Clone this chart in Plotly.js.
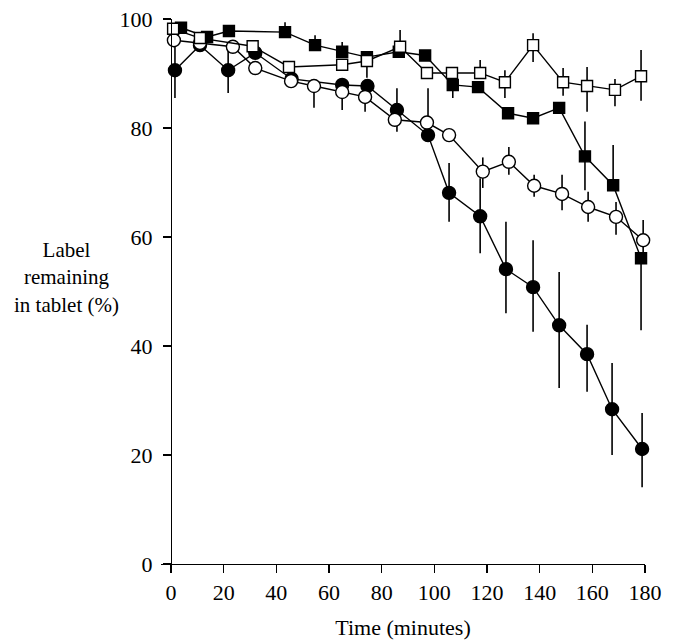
<!DOCTYPE html>
<html>
<head>
<meta charset="utf-8">
<script src="https://cdn.plot.ly/plotly-3.0.1.min.js"></script>
<style>html,body{margin:0;padding:0;background:#fff;}#chart{width:676px;height:642px;}</style>
</head>
<body>
<div id="chart"></div>
<script>
// Filled squares
const fsqT = [3.8, 13.7, 22, 43.3, 54.7, 65, 74.4, 86.5, 96.5, 107, 116.6, 128, 137.5, 147.4, 157.2, 167.9, 178.5];
const fsqY = [98.4, 96.7, 97.8, 97.6, 95.2, 94.0, 93.0, 94.0, 93.3, 87.9, 87.5, 82.7, 81.8, 83.7, 74.8, 69.5, 56.1];
const fsqEp = [0, 0, 0, 1.8, 1.8, 1.8, 0, 0, 0, 0, 0, 0, 0, 0, 6.4, 7.4, 0];
const fsqEm = [0, 0, 0, 0, 0, 0, 0, 0, 0, 2.4, 0, 0, 0, 0, 6.2, 0, 13.2];

// Open squares
const osqT = [0.8, 11, 31, 44.8, 65, 74.4, 87, 97.2, 106.7, 117.4, 126.8, 137.5, 148.9, 158, 168.6, 178.5];
const osqY = [98.2, 96.5, 95.0, 91.2, 91.6, 92.3, 94.9, 90.1, 90.1, 90.1, 88.4, 95.2, 88.4, 87.7, 87.0, 89.5];
const osqEp = [0, 0, 0, 0, 0, 0, 3.1, 0, 0, 2.4, 2.2, 2.2, 2.6, 3.5, 2.0, 4.8];
const osqEm = [0, 0, 0, 0, 0, 3.1, 0, 0, 0, 0, 2.9, 3.1, 2.5, 4.7, 3.0, 4.5];

// Filled circles
const fciT = [1.5, 11, 21.7, 32, 45.8, 65, 74.6, 85.8, 97.6, 105.6, 117.4, 127.2, 137.5, 147.4, 158, 167.5, 178.9];
const fciY = [90.6, 95.2, 90.6, 93.8, 89.0, 87.9, 87.7, 83.3, 78.7, 68.1, 63.8, 54.1, 50.8, 43.8, 38.5, 28.4, 21.1];
const fciEp = [5.1, 0, 4.2, 0, 0, 0, 0, 4.0, 8.6, 5.5, 7.0, 8.7, 8.6, 9.8, 5.4, 8.5, 6.6];
const fciEm = [5.1, 0, 4.2, 0, 0, 0, 0, 4.0, 0, 5.3, 6.8, 8.1, 8.2, 11.5, 6.9, 8.4, 7.0];

// Open circles
const ociT = [1.1, 11, 23.5, 32, 45.6, 54.3, 65, 73.7, 85, 97.2, 105.6, 118.4, 128.3, 137.9, 148.5, 158.4, 169, 179.3];
const ociY = [96.1, 95.6, 94.9, 91.0, 88.6, 87.7, 86.6, 85.7, 81.5, 81.0, 78.7, 72.0, 73.8, 69.4, 67.9, 65.5, 63.7, 59.4];
const ociEp = [0, 0, 0, 0, 0, 0, 0, 0, 0, 0, 0, 2.6, 2.7, 2.0, 3.5, 2.8, 2.7, 3.7];
const ociEm = [0, 0, 0, 0, 0, 4.0, 3.3, 2.7, 0, 0, 0, 3.0, 2.4, 2.0, 3.0, 2.7, 3.3, 3.7];

const xTicks = [0, 20, 40, 60, 80, 100, 120, 140, 160, 180];
const yTicks = [0, 20, 40, 60, 80, 100];
const xMin = -3.8, xMax = 180;

function series(t, y, ep, em, symbol, fill, size) {
  return {
    x: t, y: y, type: 'scatter', mode: 'lines+markers',
    line: {color: '#000', width: 1.4},
    marker: {symbol: symbol, size: size, color: fill, line: {color: '#000', width: 1.4}},
    error_y: {type: 'data', symmetric: false, array: ep, arrayminus: em, color: '#000', thickness: 1.6, width: 0},
    cliponaxis: false, showlegend: false, hoverinfo: 'skip'
  };
}

const data = [
  series(fciT, fciY, fciEp, fciEm, 'circle', '#000', 13),
  series(ociT, ociY, ociEp, ociEm, 'circle', '#fff', 13),
  series(fsqT, fsqY, fsqEp, fsqEm, 'square', '#000', 11),
  series(osqT, osqY, osqEp, osqEm, 'square', '#fff', 11)
];

const font = {family: '"Liberation Serif", "DejaVu Serif", serif', size: 22, color: '#000'};

const layout = {
  width: 676, height: 642,
  margin: {l: 161, r: 31, t: 19, b: 78},
  paper_bgcolor: '#fff', plot_bgcolor: '#fff',
  font: font,
  xaxis: {
    range: [xMin, xMax], tickvals: xTicks, ticktext: xTicks.map(String),
    showgrid: false, zeroline: false, showline: true, linecolor: '#000', linewidth: 1.4,
    ticks: 'outside', ticklen: 8, tickwidth: 1.4, tickcolor: '#000',
    ticklabelstandoff: 0,
    title: {text: 'Time (minutes)', font: font, standoff: 16},
    tickfont: font
  },
  yaxis: {
    range: [0, 100], tickvals: yTicks, ticktext: yTicks.map(String),
    anchor: 'free', position: (0 - xMin) / (xMax - xMin),
    showgrid: false, zeroline: false, showline: true, linecolor: '#000', linewidth: 1.4,
    ticks: 'outside', ticklen: 8, tickwidth: 1.4, tickcolor: '#000',
    ticklabelstandoff: 6,
    tickfont: font
  },
  annotations: [{
    text: 'Label<br>remaining<br>in tablet (%)',
    xref: 'paper', yref: 'paper', x: -0.195, y: 0.525,
    xanchor: 'center', yanchor: 'middle', showarrow: false,
    font: {family: font.family, size: 21, color: '#000'}, align: 'center'
  }]
};

Plotly.newPlot('chart', data, layout, {displayModeBar: false, staticPlot: true});
</script>
</body>
</html>
